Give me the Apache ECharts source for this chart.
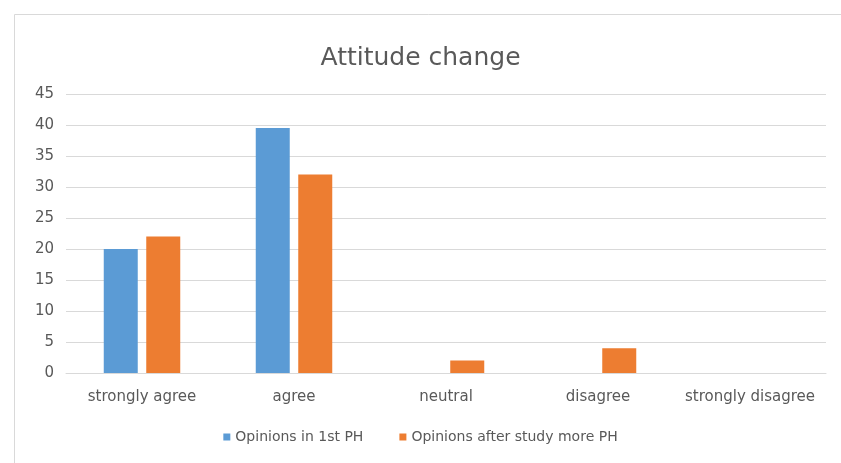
<!DOCTYPE html>
<html>
<head>
<meta charset="utf-8">
<script src="https://cdn.jsdelivr.net/npm/echarts@6/dist/echarts.min.js"></script>
<style>
html, body { margin: 0; padding: 0; background: #fff; }
#chart { width: 841px; height: 463px; }
</style>
</head>
<body>
<div id="chart"></div>
<script>
// data
var categories = ['strongly agree', 'agree', 'neutral', 'disagree', 'strongly disagree'];
var seriesNames = ['Opinions in 1st PH', 'Opinions after study more PH'];
var firstValues = [20, 39.5, 0, 0, 0];
var secondValues = [22, 32, 2, 4, 0];

var myChart = echarts.init(document.getElementById('chart'));
var options = {
	color: ['#5B9BD5', '#ED7D31'],
	title: {
		text: 'Attitude change',
		left: 'center',
		top: 41,
		textStyle: { fontFamily: 'DejaVu Sans', fontSize: 25, fontWeight: 'normal', color: '#595959' }
	},
	graphic: [{
		type: 'rect',
		shape: { x: 14.5, y: 14.5, width: 840, height: 460 },
		style: { fill: 'none', stroke: '#d9d9d9', lineWidth: 1 }
	}],
	legend: {
		bottom: 14,
		itemWidth: 7,
		itemHeight: 7,
		itemGap: 36,
		icon: 'rect',
		textStyle: { fontFamily: 'DejaVu Sans', fontSize: 14, color: '#595959' },
		data: seriesNames
	},
	grid: { left: 66, right: 15, top: 94, bottom: 90 },
	xAxis: {
		type: 'category',
		data: categories,
		axisLine: { lineStyle: { color: '#d9d9d9' } },
		axisTick: { show: false },
		axisLabel: { interval: 0, fontFamily: 'DejaVu Sans', fontSize: 15, color: '#595959', margin: 17 }
	},
	yAxis: {
		type: 'value',
		min: 0,
		max: 45,
		interval: 5,
		axisLine: { show: false },
		axisTick: { show: false },
		axisLabel: { fontFamily: 'DejaVu Sans', fontSize: 15, color: '#595959', margin: 12 },
		splitLine: { lineStyle: { color: '#d9d9d9' } }
	},
	series: [
		{ name: seriesNames[0], type: 'bar', data: firstValues, barWidth: 34, barGap: '25%' },
		{ name: seriesNames[1], type: 'bar', data: secondValues, barWidth: 34, barGap: '25%' }
	]
};
myChart.setOption(options);
</script>
</body>
</html>
